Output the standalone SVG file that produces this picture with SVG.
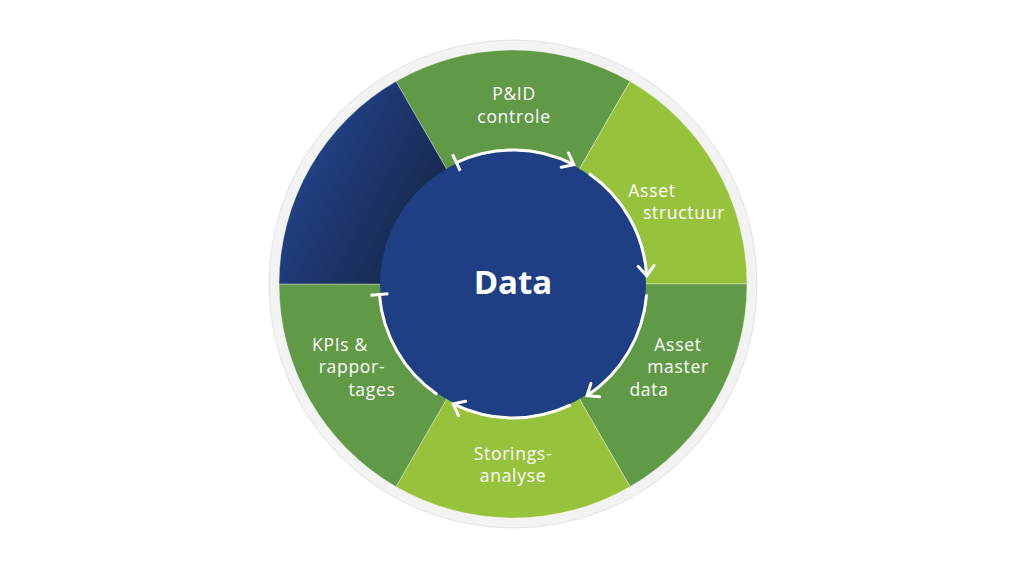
<svg xmlns="http://www.w3.org/2000/svg" width="1024" height="576" viewBox="0 0 1024 576">
  <defs>
    <linearGradient id="navy" gradientUnits="userSpaceOnUse" x1="300" y1="150" x2="425" y2="215">
      <stop offset="0" stop-color="#22428a"/>
      <stop offset="1" stop-color="#172a4e"/>
    </linearGradient>
    <marker id="arrow" markerUnits="userSpaceOnUse" orient="auto" refX="0" refY="0" markerWidth="30" markerHeight="30" overflow="visible">
      <path d="M-10,-8 L0,0 L-10,8" fill="none" stroke="#ffffff" stroke-width="3" stroke-linecap="round" stroke-linejoin="miter"/>
    </marker>
    <marker id="tick" markerUnits="userSpaceOnUse" orient="auto" refX="0" refY="0" markerWidth="30" markerHeight="30" overflow="visible">
      <path d="M0,-9 L0,9" fill="none" stroke="#ffffff" stroke-width="3"/>
    </marker>
  </defs>
  <style>
    .seg { stroke: #ffffff; stroke-opacity: 0.45; stroke-width: 0.8; }
    .dark { fill: #619a46; }
    .light { fill: #97c23c; }
    .lbl { font-family: "Open Sans", "Noto Sans", sans-serif; font-size: 17.5px; fill: #ffffff; text-anchor: middle; letter-spacing: 0.7px; }
    .flow { fill: none; stroke: #ffffff; stroke-width: 3; }
  </style>
  <rect width="1024" height="576" fill="#ffffff"/>
  <circle id="ring" cx="513" cy="284" r="244" fill="#f3f3f3" stroke="#e3e3e3" stroke-width="1"/>

  <g id="seg-pid">
    <path class="seg dark" d="M513,284 L396,81.35 A234,234 0 0 1 630,81.35 Z"/>
    <text class="lbl" x="514" y="100">P&amp;ID</text>
    <text class="lbl" x="514" y="123">controle</text>
  </g>
  <g id="seg-structuur">
    <path class="seg light" d="M513,284 L630,81.35 A234,234 0 0 1 747,284 Z"/>
    <text class="lbl" x="652" y="197">Asset</text>
    <text class="lbl" x="684" y="219">structuur</text>
  </g>
  <g id="seg-master">
    <path class="seg dark" d="M513,284 L747,284 A234,234 0 0 1 630,486.65 Z"/>
    <text class="lbl" x="678" y="351">Asset</text>
    <text class="lbl" x="678" y="373">master</text>
    <text class="lbl" x="649" y="396">data</text>
  </g>
  <g id="seg-storing">
    <path class="seg light" d="M513,284 L630,486.65 A234,234 0 0 1 396,486.65 Z"/>
    <text class="lbl" x="513" y="460">Storings-</text>
    <text class="lbl" x="513" y="482">analyse</text>
  </g>
  <g id="seg-kpi">
    <path class="seg dark" d="M513,284 L396,486.65 A234,234 0 0 1 279,284 Z"/>
    <text class="lbl" x="340" y="351">KPIs &amp;</text>
    <text class="lbl" x="352" y="373">rappor-</text>
    <text class="lbl" x="372" y="396">tages</text>
  </g>
  <g id="seg-navy">
    <path class="seg" fill="url(#navy)" d="M513,284 L279,284 A234,234 0 0 1 396,81.35 Z"/>
  </g>

  <g id="data">
    <circle cx="513" cy="284" r="133" fill="#1f3f85"/>
    <text x="513" y="294" font-family="'Open Sans', 'Noto Sans', sans-serif" font-size="33" font-weight="700" fill="#ffffff" text-anchor="middle">Data</text>
  </g>

  <g id="connectors">
    <path class="flow" marker-start="url(#tick)" marker-end="url(#arrow)" d="M456.4,162.6 A134,134 0 0 1 573.8,164.6"/>
    <path class="flow" marker-end="url(#arrow)" d="M588.9,173.6 A134,134 0 0 1 646.7,275.8"/>
    <path class="flow" marker-end="url(#arrow)" d="M646.6,294.5 A134,134 0 0 1 587.0,395.7"/>
    <path class="flow" marker-end="url(#arrow)" d="M570.7,404.9 A134,134 0 0 1 453.2,403.9"/>
    <path class="flow" marker-end="url(#tick)" d="M437.1,394.4 A134,134 0 0 1 379.4,294.5"/>
  </g>
</svg>
